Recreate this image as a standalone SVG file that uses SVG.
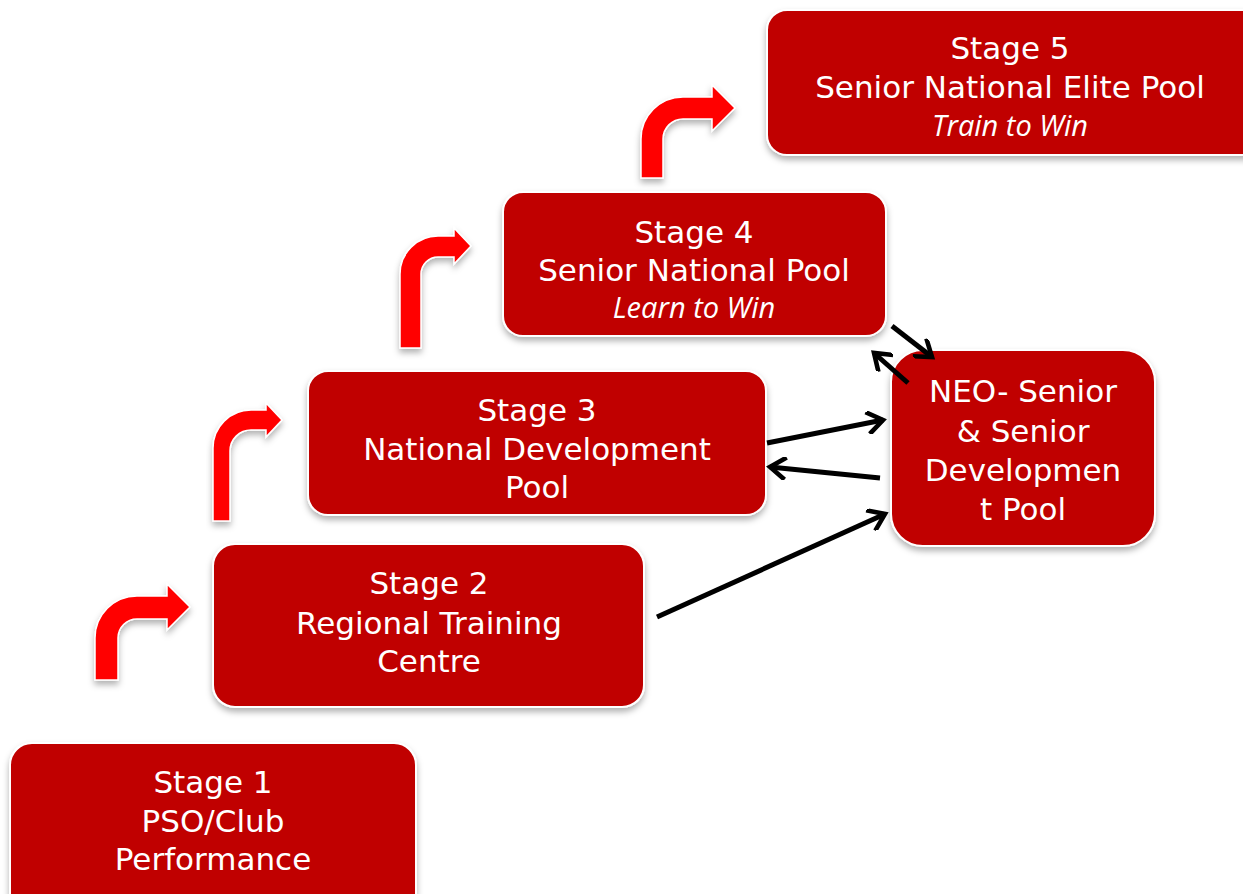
<svg xmlns="http://www.w3.org/2000/svg" width="1243" height="894" viewBox="0 0 1243 894">
<defs>
<filter id="sh" x="-10%" y="-10%" width="120%" height="130%">
<feDropShadow dx="0" dy="4" stdDeviation="3" flood-color="#000" flood-opacity="0.3"/>
</filter>
<marker id="ah" viewBox="0 0 20 20" refX="16" refY="10" markerWidth="4.6" markerHeight="4.6" markerUnits="strokeWidth" orient="auto">
<polyline points="4,1.5 16,10 4,18.5" fill="none" stroke="#000" stroke-width="4" stroke-linecap="square" stroke-linejoin="miter"/>
</marker>
</defs>
<style>
.box{fill:#C00000;stroke:#fff;stroke-width:2;filter:url(#sh)}
.bent{fill:#FF0000;stroke:#fff;stroke-width:1.5;filter:url(#sh)}
.t{fill:#fff;font-family:"DejaVu Sans","Liberation Sans",sans-serif;font-size:31px;text-anchor:middle}
.i{fill:#fff;font-family:"Open Sans","Liberation Sans",sans-serif;font-style:italic;font-size:29px;text-anchor:middle}
.c{fill:none;stroke:#000;stroke-width:5;marker-end:url(#ah)}
</style>
<rect width="1243" height="894" fill="#fff"/>

<g id="bent-arrows">
<path class="bent" d="M95,680 L95,638 A42,42 0 0 1 137,596 L167,596 L167,584 L190,607 L167,630 L167,619 L137,619 A19,19 0 0 0 118,638 L118,680 Z"/>
<path class="bent" d="M213,521 L213,448 A38,38 0 0 1 251,410 L266,410 L266,403 L282,420 L266,437 L266,430 L251,430 A21,21 0 0 0 230,451 L230,521 Z"/>
<path class="bent" d="M400,348 L400,274 A38,38 0 0 1 438,236 L454,236 L454,228 L471,246 L454,264 L454,257 L438,257 A17,17 0 0 0 421,274 L421,348 Z"/>
<path class="bent" d="M641,178 L641,139 A42,42 0 0 1 683,97 L712,97 L712,85 L735,108 L712,131 L712,119 L683,119 A20,20 0 0 0 663,139 L663,178 Z"/>
</g>

<g id="stage1">
<rect class="box" x="10" y="743" width="406" height="175" rx="22"/>
<text class="t" x="213" y="793">Stage 1</text>
<text class="t" x="213" y="832">PSO/Club</text>
<text class="t" x="213" y="870">Performance</text>
</g>

<g id="stage2">
<rect class="box" x="213" y="544" width="431" height="163" rx="22"/>
<text class="t" x="429" y="594">Stage 2</text>
<text class="t" x="429" y="634">Regional Training</text>
<text class="t" x="429" y="672">Centre</text>
</g>

<g id="stage3">
<rect class="box" x="308" y="371" width="458" height="144" rx="20"/>
<text class="t" x="537" y="421">Stage 3</text>
<text class="t" x="537" y="460">National Development</text>
<text class="t" x="537" y="498">Pool</text>
</g>

<g id="stage4">
<rect class="box" x="503" y="192" width="383" height="144" rx="20"/>
<text class="t" x="694" y="243">Stage 4</text>
<text class="t" x="694" y="281">Senior National Pool</text>
<text class="i" x="694" y="318">Learn to Win</text>
</g>

<g id="stage5">
<rect class="box" x="767" y="10" width="500" height="145" rx="20"/>
<text class="t" x="1010" y="59">Stage 5</text>
<text class="t" x="1010" y="98">Senior National Elite Pool</text>
<text class="i" x="1010" y="136">Train to Win</text>
</g>

<g id="neo">
<rect class="box" x="891" y="350" width="264" height="196" rx="32"/>
<text class="t" x="1023" y="402">NEO- Senior</text>
<text class="t" x="1023" y="442">&amp; Senior</text>
<text class="t" x="1023" y="481">Developmen</text>
<text class="t" x="1023" y="520">t Pool</text>
</g>

<g id="connectors">
<line class="c" x1="767" y1="443" x2="883" y2="420"/>
<line class="c" x1="880" y1="478" x2="770" y2="467"/>
<line class="c" x1="657" y1="617" x2="885" y2="514"/>
<line class="c" x1="892" y1="326" x2="932" y2="357"/>
<line class="c" x1="908" y1="383" x2="874" y2="353"/>
</g>
</svg>
